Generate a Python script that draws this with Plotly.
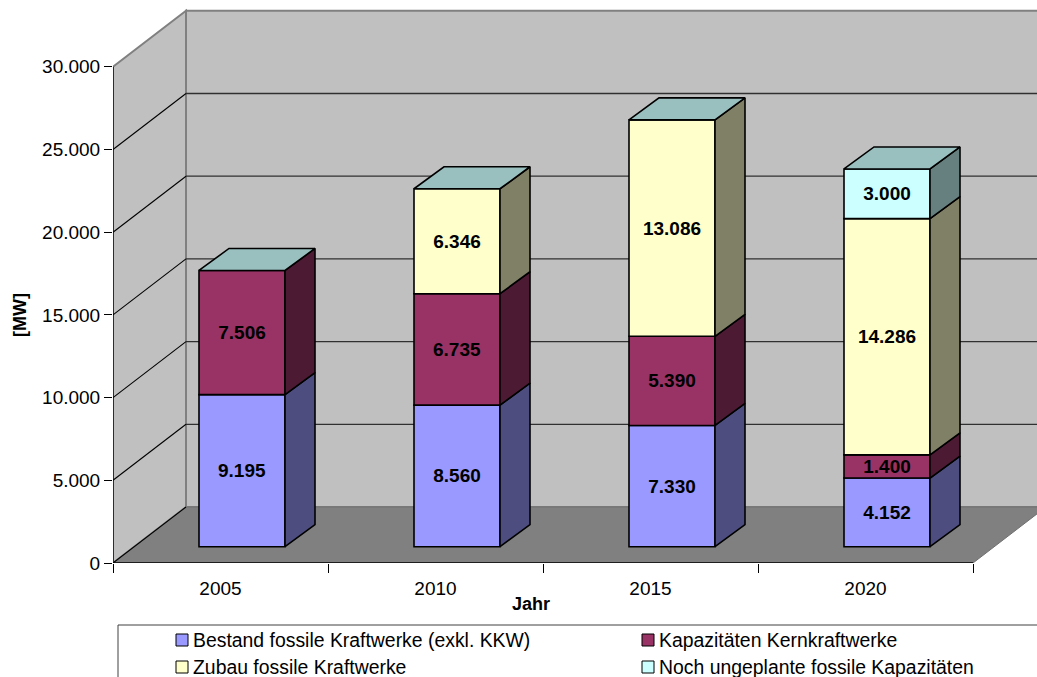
import plotly.graph_objects as go

# values
years = ["2005", "2010", "2015", "2020"]
bestand = [9195, 8560, 7330, 4152]
kernkraft = [7506, 6735, 5390, 1400]
zubau = [0, 6346, 13086, 14286]
ungeplant = [0, 0, 0, 3000]
y_ticks = [0, 5000, 10000, 15000, 20000, 25000, 30000]
y_labels = ["0", "5.000", "10.000", "15.000", "20.000", "25.000", "30.000"]

names = ["Bestand fossile Kraftwerke (exkl. KKW)", "Kapazitäten Kernkraftwerke",
         "Zubau fossile Kraftwerke", "Noch ungeplante fossile Kapazitäten"]
series = [bestand, kernkraft, zubau, ungeplant]
front_colors = ["#9999FF", "#993366", "#FFFFCC", "#CCFFFF"]
side_colors = ["#4D4D80", "#4D1A33", "#808066", "#668080"]
top_color = "#99BFBF"

# page geometry in pixels
W, H = 1037, 677
LEFT, BOTTOM = 113, 563
PX_PER_CAT = 215
PX_PER_UNIT = 82.7 / 5000


def dx(px):
    return px / PX_PER_CAT


def dy(px):
    return px / PX_PER_UNIT


def paper_x(px):
    return (px - LEFT) / (W - LEFT)


def paper_y(px):
    return (BOTTOM - px) / BOTTOM


x_min = -0.5
x_max = x_min + (W - LEFT) / PX_PER_CAT
y_max = BOTTOM / PX_PER_UNIT
n = len(years)

# fake 3D depth
wall_dx, wall_dy = dx(73), dy(56)
bar_shift_x, bar_shift_y = dx(21.5), dy(16.3)
bar_dx, bar_dy = dx(30), dy(22)
bar_width = dx(86)

fig = go.Figure()

# walls and floor
shapes = [
    dict(type="path", xref="x", yref="y", layer="below", fillcolor="#C0C0C0",
         line=dict(color="#808080", width=2),
         path=f"M {-0.5 + wall_dx},{wall_dy} L {x_max + 1},{wall_dy} "
              f"L {x_max + 1},{30000 + wall_dy} L {-0.5 + wall_dx},{30000 + wall_dy} Z"),
    dict(type="path", xref="x", yref="y", layer="below", fillcolor="#C0C0C0",
         line=dict(color="#808080", width=2),
         path=f"M -0.5,0 L {-0.5 + wall_dx},{wall_dy} L {-0.5 + wall_dx},{30000 + wall_dy} "
              f"L -0.5,30000 Z"),
    dict(type="path", xref="x", yref="y", layer="below", fillcolor="#808080",
         line=dict(color="#707070", width=1),
         path=f"M -0.5,0 L {-0.5 + wall_dx},{wall_dy} L {n - 0.5 + wall_dx},{wall_dy} "
              f"L {n - 0.5},0 Z"),
]
for v in y_ticks[1:-1]:
    shapes.append(dict(type="line", xref="x", yref="y", layer="below",
                       x0=-0.5 + wall_dx, x1=x_max + 1, y0=v + wall_dy, y1=v + wall_dy,
                       line=dict(color="#303030", width=1.3)))
for v in y_ticks[:-1]:
    shapes.append(dict(type="line", xref="x", yref="y", layer="below",
                       x0=-0.5, x1=-0.5 + wall_dx, y0=v, y1=v + wall_dy,
                       line=dict(color="#000000", width=1.1)))

# axis lines
shapes.append(dict(type="line", xref="x", yref="y", x0=-0.5, x1=-0.5, y0=0, y1=30000,
                   line=dict(color="#000000", width=1.3)))
shapes.append(dict(type="line", xref="x", yref="y", x0=-0.5, x1=n - 0.5, y0=0, y1=0,
                   line=dict(color="#000000", width=1.3)))

# stacked bars, front faces and side faces
base = [bar_shift_y] * n
for s, values in enumerate(series):
    xs, bases, heights, labels = [], [], [], []
    side_x, side_y = [], []
    for i, v in enumerate(values):
        if v > 0:
            xc = i + bar_shift_x
            xr = xc + bar_width / 2
            xs.append(xc)
            bases.append(base[i])
            heights.append(v)
            labels.append(f"{v:,}".replace(",", "."))
            side_x += [xr, xr + bar_dx, xr + bar_dx, xr, xr, None]
            side_y += [base[i], base[i] + bar_dy, base[i] + v + bar_dy, base[i] + v, base[i], None]
        base[i] += v
    fig.add_trace(go.Bar(
        x=xs, y=heights, base=bases, width=bar_width, name=names[s],
        marker=dict(color=front_colors[s], line=dict(color="#000000", width=1.6)),
        text=labels, textposition="inside", insidetextanchor="middle", textangle=0,
        constraintext="none",
        textfont=dict(family="Liberation Sans", size=19, color="#000000", weight="bold"),
        showlegend=False,
    ))
    fig.add_trace(go.Scatter(
        x=side_x, y=side_y, mode="lines", fill="toself", fillcolor=side_colors[s],
        line=dict(color="#000000", width=1.6), hoverinfo="skip", showlegend=False,
    ))

# top faces use the stack total
top_x, top_y = [], []
for i in range(n):
    xl = i + bar_shift_x - bar_width / 2
    xr = xl + bar_width
    t = base[i]
    top_x += [xl, xr, xr + bar_dx, xl + bar_dx, xl, None]
    top_y += [t, t, t + bar_dy, t + bar_dy, t, None]
fig.add_trace(go.Scatter(
    x=top_x, y=top_y, mode="lines", fill="toself", fillcolor=top_color,
    line=dict(color="#000000", width=1.6), hoverinfo="skip", showlegend=False,
))

# legend, built by hand to sit like the original box
shapes.append(dict(type="rect", xref="paper", yref="paper",
                   x0=paper_x(118), x1=paper_x(1045), y0=paper_y(625), y1=paper_y(685),
                   line=dict(color="#404040", width=1), fillcolor="#FFFFFF"))
annotations = []
legend_pos = [(176, 640), (642, 640), (176, 667), (642, 667)]
for (lx, ly), name, color in zip(legend_pos, names, front_colors):
    shapes.append(dict(type="rect", xref="paper", yref="paper",
                       x0=paper_x(lx), x1=paper_x(lx + 12), y0=paper_y(ly - 6), y1=paper_y(ly + 6),
                       line=dict(color="#000000", width=1), fillcolor=color))
    annotations.append(dict(xref="paper", yref="paper", x=paper_x(lx + 15), y=paper_y(ly),
                            text=name, showarrow=False, xanchor="left", yanchor="middle",
                            font=dict(size=19.4)))

# axis titles
annotations.append(dict(xref="paper", yref="paper", x=paper_x(531), y=paper_y(604), text="<b>Jahr</b>",
                        showarrow=False, xanchor="center", yanchor="middle", font=dict(size=18)))
annotations.append(dict(xref="paper", yref="paper", x=paper_x(20), y=paper_y(315), text="<b>[MW]</b>",
                        showarrow=False, xanchor="center", yanchor="middle", textangle=-90,
                        font=dict(size=18)))

fig.update_layout(
    width=W, height=H,
    margin=dict(l=LEFT, r=0, t=0, b=H - BOTTOM),
    paper_bgcolor="#FFFFFF", plot_bgcolor="#FFFFFF",
    barmode="overlay", showlegend=False,
    font=dict(family="Liberation Sans", size=19, color="#000000"),
    shapes=shapes, annotations=annotations,
    xaxis=dict(range=[x_min, x_max], tickmode="array", tickvals=list(range(n)), ticktext=years,
               ticks="outside", ticklen=8, tickcolor="rgba(0,0,0,0)", showgrid=False,
               zeroline=False, showline=False,
               minor=dict(tickmode="array", tickvals=[i - 0.5 for i in range(n + 1)],
                          ticks="outside", ticklen=9, tickcolor="#000000", tickwidth=1.2,
                          showgrid=False)),
    yaxis=dict(range=[0, y_max], tickmode="array", tickvals=y_ticks, ticktext=y_labels,
               ticks="outside", ticklen=8, tickcolor="#000000", tickwidth=1.2, showgrid=False,
               zeroline=False, showline=False),
)

# the page's default body margin would push the chart off its spot
fig.write_html("out.html", config=dict(displayModeBar=False),
               post_script="document.body.style.margin='0';document.body.style.overflow='hidden';")
